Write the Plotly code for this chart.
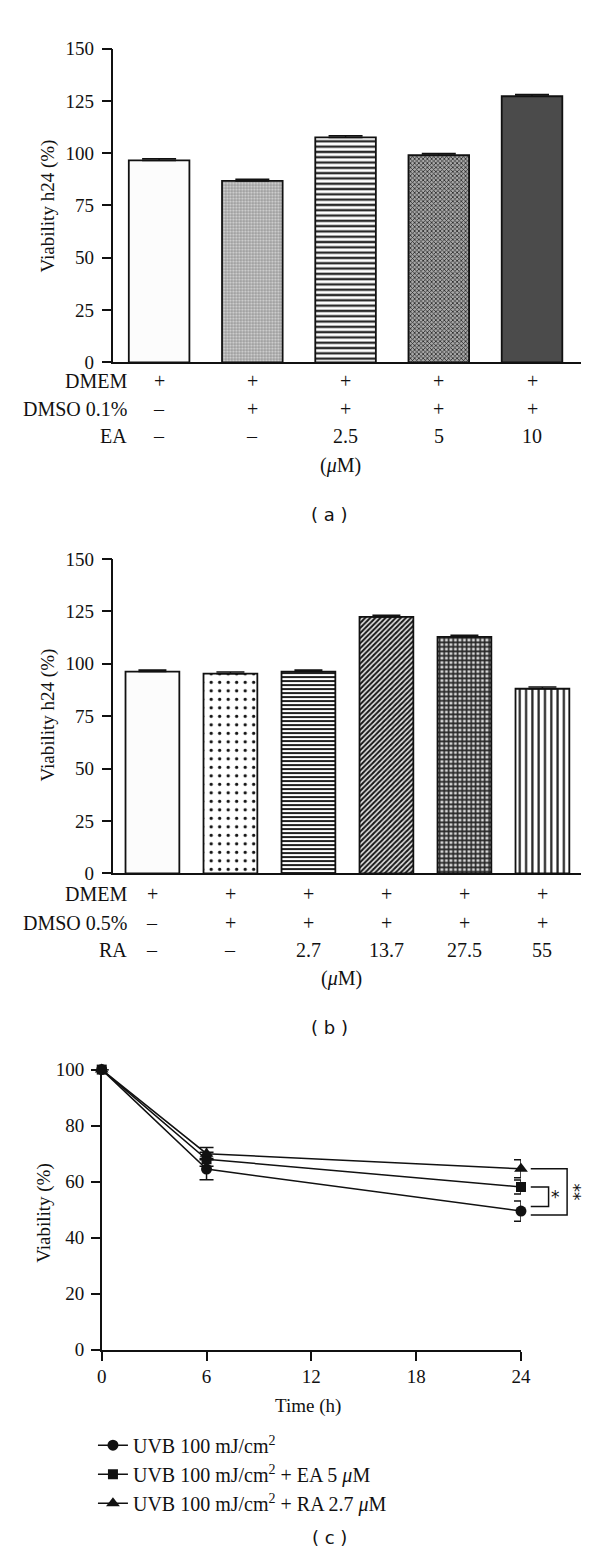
import plotly.graph_objects as go

W, H = 600, 1554

# ---------------- data ----------------
# Panel (a)
a_values = [96.5, 86.7, 107.5, 99.0, 127.2]
a_errors = [0.8, 0.8, 0.8, 0.8, 0.8]
a_rows = ["DMEM", "DMSO 0.1%", "EA"]
a_dmem = ["+", "+", "+", "+", "+"]
a_dmso = ["–", "+", "+", "+", "+"]
a_ea = ["–", "–", "2.5", "5", "10"]

# Panel (b)
b_values = [96.3, 95.3, 96.3, 122.4, 112.9, 88.1]
b_errors = [0.8, 0.8, 0.8, 0.8, 0.8, 0.8]
b_rows = ["DMEM", "DMSO 0.5%", "RA"]
b_dmem = ["+", "+", "+", "+", "+", "+"]
b_dmso = ["–", "+", "+", "+", "+", "+"]
b_ra = ["–", "–", "2.7", "13.7", "27.5", "55"]

bar_ticks = [0, 25, 50, 75, 100, 125, 150]

# Panel (c)
c_time = [0, 6, 24]
c_uvb = [100, 64.5, 49.5]
c_uvb_err = [0, 3.8, 3.6]
c_ea = [100, 68.0, 58.1]
c_ea_err = [0, 2.5, 2.5]
c_ra = [100, 70.0, 64.6]
c_ra_err = [0, 2.2, 3.2]
c_names = ["UVB 100 mJ/cm<sup>2</sup>",
           "UVB 100 mJ/cm<sup>2</sup> + EA 5 <i>μ</i>M",
           "UVB 100 mJ/cm<sup>2</sup> + RA 2.7 <i>μ</i>M"]
c_xticks = [0, 6, 12, 18, 24]
c_yticks = [0, 20, 40, 60, 80, 100]
# significance brackets: (upper value, lower value, label)
c_sig = [(58.1, 51.1, "*"), (64.6, 48.1, "**")]

# ---------------- styles ----------------
SERIF = "Liberation Serif"
SANS = "DejaVu Sans"
BLACK = "#111111"

a_styles = [
    dict(color="#fcfcfc", shape="", fg="#000", bg="#fcfcfc", size=8, sol=0.3),
    dict(color="#d2d2d2", shape=".", fg="#8a8a8a", bg="#e2e2e2", size=3, sol=0.5),
    dict(color="#ffffff", shape="-", fg="#2a2a2a", bg="#ffffff", size=5.3, sol=0.45),
    dict(color="#808080", shape="x", fg="#262626", bg="#a8a8a8", size=3, sol=0.45),
    dict(color="#4b4b4b", shape="", fg="#4b4b4b", bg="#4b4b4b", size=8, sol=0.3),
]
b_styles = [
    dict(color="#fcfcfc", shape="", fg="#000", bg="#fcfcfc", size=8, sol=0.3),
    dict(color="#ffffff", shape=".", fg="#111", bg="#ffffff", size=8.5, sol=0.12),
    dict(color="#ffffff", shape="-", fg="#222", bg="#ffffff", size=4, sol=0.5),
    dict(color="#555555", shape="/", fg="#1a1a1a", bg="#e8e8e8", size=3.6, sol=0.55),
    dict(color="#555555", shape="+", fg="#262626", bg="#d8d8d8", size=4.5, sol=0.6),
    dict(color="#ffffff", shape="|", fg="#222", bg="#ffffff", size=6.3, sol=0.35),
]


def fx(px):
    return px / W


def fy(py):
    return 1 - py / H


fig = go.Figure()

# ---------------- bars ----------------
def add_bars(values, errors, styles, xa, ya, width, capw):
    for i, (v, e, s) in enumerate(zip(values, errors, styles)):
        fig.add_trace(go.Bar(
            x=[i], y=[v], width=width, xaxis=xa, yaxis=ya, showlegend=False,
            marker=dict(color=s["color"], line=dict(color=BLACK, width=1.8),
                        pattern=dict(shape=s["shape"], fgcolor=s["fg"], bgcolor=s["bg"],
                                     size=s["size"], solidity=s["sol"], fillmode="replace")),
            error_y=dict(type="data", array=[e], arrayminus=[0], symmetric=False,
                         color=BLACK, thickness=1.5, width=capw),
            hoverinfo="skip",
        ))


add_bars(a_values, a_errors, a_styles, "x", "y", 0.65, 17)
add_bars(b_values, b_errors, b_styles, "x2", "y2", 0.69, 14)

# ---------------- lines (c) ----------------
series = [(c_uvb, c_uvb_err, "circle", 11),
          (c_ea, c_ea_err, "square", 10),
          (c_ra, c_ra_err, "triangle-up", 12)]
for (vals, errs, sym, msz), name in zip(series, c_names):
    fig.add_trace(go.Scatter(
        x=c_time, y=vals, name=name, mode="lines+markers", xaxis="x3", yaxis="y3",
        line=dict(color=BLACK, width=1.5),
        marker=dict(symbol=sym, size=msz, color=BLACK),
        error_y=dict(type="data", array=errs, color=BLACK, thickness=1.5, width=7),
        cliponaxis=False, hoverinfo="skip",
    ))

# significance brackets drawn in an invisible helper subplot to the right
bx0, bx1_list, tx_list = 24.56, [25.58, 26.64], [25.95, 27.05]
for (top, bot, lab), bx1, tx in zip(c_sig, bx1_list, tx_list):
    fig.add_trace(go.Scatter(
        x=[bx0, bx1, bx1, bx0], y=[top, top, bot, bot], mode="lines",
        line=dict(color=BLACK, width=1.5), xaxis="x4", yaxis="y4",
        showlegend=False, hoverinfo="skip",
    ))
    fig.add_annotation(x=tx, y=(top + bot) / 2, xref="x4", yref="y4", text=lab,
                       textangle=90 if len(lab) > 1 else 0, showarrow=False,
                       font=dict(family=SANS, size=17, color=BLACK),
                       xanchor="center", yanchor="middle")

# ---------------- axes ----------------
axis_common = dict(showgrid=False, zeroline=False, showline=True, linecolor=BLACK,
                   linewidth=1.5, tickfont=dict(family=SERIF, size=19, color=BLACK))
ytick_common = dict(ticks="outside", ticklen=10, tickwidth=1.5, tickcolor=BLACK,
                    ticklabelstandoff=4)

fig.update_layout(
    width=W, height=H, margin=dict(l=0, r=0, t=0, b=0),
    paper_bgcolor="white", plot_bgcolor="white",
    font=dict(family=SERIF, size=19, color=BLACK),
    barmode="overlay",
    xaxis=dict(domain=[fx(103), fx(583)], range=[-0.49, 4.53], anchor="y",
               showticklabels=False, ticks="", **axis_common),
    yaxis=dict(domain=[fy(349), fy(31)], range=[0, 150], anchor="x", tickvals=bar_ticks,
               **ytick_common, **axis_common),
    xaxis2=dict(domain=[fx(103), fx(583)], range=[-0.5, 5.5], anchor="y2",
                showticklabels=False, ticks="", **axis_common),
    yaxis2=dict(domain=[fy(867), fy(548.5)], range=[0, 150], anchor="x2", tickvals=bar_ticks,
                **ytick_common, **axis_common),
    xaxis3=dict(domain=[fx(91), fx(521)], range=[0, 24], anchor="y3", tickvals=c_xticks,
                ticks="outside", ticklen=9, tickwidth=1.5, tickcolor=BLACK, **axis_common),
    yaxis3=dict(domain=[fy(1350), fy(1066)], range=[0, 100], anchor="x3", tickvals=c_yticks,
                ticks="outside", ticklen=9, tickwidth=1.5, tickcolor=BLACK,
                ticklabelstandoff=3, **axis_common),
    xaxis4=dict(domain=[fx(521), 1.0], range=[24, 24 + 79 / 17.92], anchor="y4", visible=False),
    yaxis4=dict(domain=[fy(1350), fy(1066)], range=[0, 100], anchor="x4", visible=False),
    legend=dict(x=fx(82), y=fy(1427), xanchor="left", yanchor="top",
                font=dict(family=SERIF, size=20, color=BLACK), bgcolor="rgba(0,0,0,0)",
                traceorder="normal", tracegroupgap=0),
)

# ---------------- text annotations ----------------
def ann(text, x, y, xref="paper", xanchor="center", size=20, family=SERIF, angle=0):
    fig.add_annotation(text=text, x=x, y=y, xref=xref, yref="paper", showarrow=False,
                       xanchor=xanchor, yanchor="middle", textangle=angle,
                       font=dict(family=family, size=size, color=BLACK))


# y axis titles
ann("Viability h24 (%)", fx(36), fy(191), angle=-90, size=19)
ann("Viability h24 (%)", fx(36), fy(707), angle=-90, size=19)
ann("Viability (%)", fx(31), fy(1211), angle=-90, size=19)
ann("Time (h)", fx(303), fy(1407), size=19)

# row tables under bar charts
a_table = [a_dmem, a_dmso, a_ea]
a_row_y = [368, 396, 424]
for lab, row, py in zip(a_rows, a_table, a_row_y):
    ann(lab, fx(119), fy(py), xanchor="right")
    for i, t in enumerate(row):
        ann(t, i, fy(py), xref="x")
ann("(<i>μ</i>M)", fx(336), fy(454))

b_table = [b_dmem, b_dmso, b_ra]
b_row_y = [888, 917, 945]
for lab, row, py in zip(b_rows, b_table, b_row_y):
    ann(lab, fx(119), fy(py), xanchor="right")
    for i, t in enumerate(row):
        ann(t, i, fy(py), xref="x2")
ann("(<i>μ</i>M)", fx(337), fy(974))

# panel letters
ann("( a )", fx(325), fy(503), family=SANS, size=18)
ann("( b )", fx(325), fy(1023), family=SANS, size=18)
ann("( c )", fx(325), fy(1540), family=SANS, size=18)

fig.write_html("out.html")
